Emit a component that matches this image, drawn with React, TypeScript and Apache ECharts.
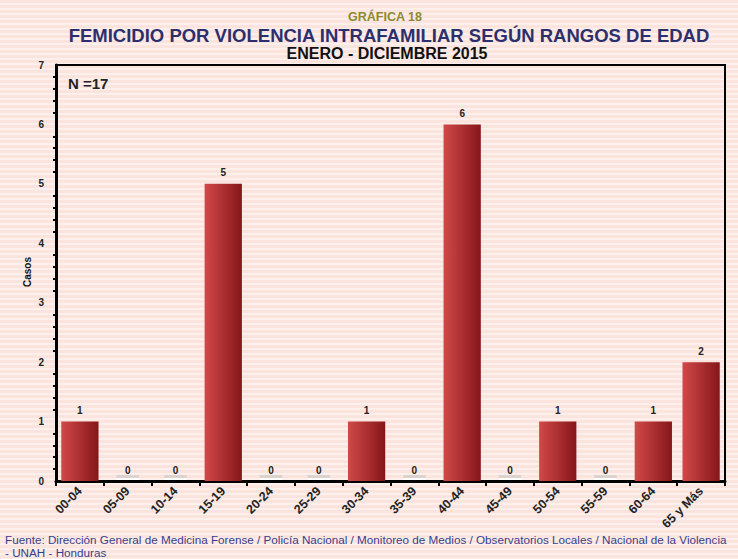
import React, { useEffect, useRef } from "react";
import * as echarts from "echarts";

const categories = ["00-04", "05-09", "10-14", "15-19", "20-24", "25-29", "30-34", "35-39", "40-44", "45-49", "50-54", "55-59", "60-64", "65 y Más"];
const casos = [1, 0, 0, 5, 0, 0, 1, 0, 6, 0, 1, 0, 1, 2];

export default function App() {
  const ref = useRef<HTMLDivElement>(null);
  useEffect(() => {
    const chart = echarts.init(ref.current!, null, { renderer: "svg" });
    const barColor = new echarts.graphic.LinearGradient(0, 0, 1, 0, [
      { offset: 0, color: "#d24848" },
      { offset: 1, color: "#85161a" },
    ]);
    const ff = "Liberation Sans";
    chart.setOption({
      animation: false,
      backgroundColor: "transparent",
      grid: { left: 56, right: 13, top: 65, bottom: 78, show: true, borderColor: "#000", borderWidth: 2, backgroundColor: "transparent" },
      xAxis: {
        type: "category",
        data: categories,
        axisLine: { lineStyle: { color: "#000", width: 3 } },
        axisTick: { show: true, lineStyle: { color: "#000", width: 2 }, length: 5 },
        axisLabel: { rotate: 45, color: "#222", fontWeight: "bold", fontSize: 12.5, fontFamily: ff, margin: 8, interval: 0 },
      },
      yAxis: {
        type: "value",
        min: 0,
        max: 7,
        interval: 1,
        axisLine: { show: true, lineStyle: { color: "#000", width: 3 } },
        axisTick: { show: false },
        minorTick: { show: true, splitNumber: 5, length: 3, lineStyle: { color: "#000", width: 2 } },
        splitLine: { show: false },
        axisLabel: { color: "#222", fontWeight: "bold", fontSize: 10, fontFamily: ff, margin: 12 },
      },
      series: [
        {
          type: "custom",
          z: 1,
          silent: true,
          data: casos.map((v, i) => [i, v]),
          renderItem: (params: any, api: any) => {
            if (api.value(1) !== 0) return null;
            const p = api.coord([api.value(0), 0]);
            const w = api.size([1, 0])[0] * 0.47;
            return {
              type: "group",
              children: [
                { type: "rect", shape: { x: p[0] - w / 2, y: p[1] - 6, width: w, height: 4 }, style: { fill: "#dcd3cf" } },
                { type: "rect", shape: { x: p[0] - w / 2, y: p[1] - 3, width: w, height: 2 }, style: { fill: "#ffffff" } },
              ],
            };
          },
        },
        {
          type: "bar",
          data: casos,
          barCategoryGap: "22%",
          itemStyle: { color: barColor },
          label: { show: true, position: "top", color: "#222", fontWeight: "bold", fontSize: 10, fontFamily: ff, distance: 6 },
        },
      ],
      graphic: [
        { type: "text", x: 385, y: 17, style: { text: "GRÁFICA 18", fill: "#8b8b2c", font: `bold 12.5px ${ff}`, textAlign: "center", textVerticalAlign: "middle" } },
        { type: "text", x: 389, y: 35, style: { text: "FEMICIDIO POR VIOLENCIA INTRAFAMILIAR SEGÚN RANGOS DE EDAD", fill: "#2c2f6e", font: `bold 18.5px ${ff}`, textAlign: "center", textVerticalAlign: "middle" } },
        { type: "text", x: 387, y: 53, style: { text: "ENERO - DICIEMBRE 2015", fill: "#111", font: `bold 16px ${ff}`, textAlign: "center", textVerticalAlign: "middle" } },
        { type: "text", x: 68, y: 83, style: { text: "N =17", fill: "#222", font: `bold 15px ${ff}`, textVerticalAlign: "middle" } },
        { type: "text", x: 27, y: 272, rotation: Math.PI / 2, style: { text: "Casos", fill: "#111", font: `bold 10px ${ff}`, textAlign: "center", textVerticalAlign: "middle" } },
        { type: "text", x: 5, y: 539, style: { text: "Fuente: Dirección General de Medicina Forense / Policía Nacional / Monitoreo de Medios / Observatorios Locales / Nacional de la Violencia", fill: "#3a3c8c", font: `11.7px ${ff}`, textVerticalAlign: "middle" } },
        { type: "text", x: 5, y: 552, style: { text: "- UNAH - Honduras", fill: "#3a3c8c", font: `11.7px ${ff}`, textVerticalAlign: "middle" } },
      ],
    });
    return () => chart.dispose();
  }, []);
  return (
    <div
      ref={ref}
      style={{
        position: "absolute",
        left: 0,
        top: 0,
        width: 738,
        height: 559,
        background: "repeating-linear-gradient(to bottom, #fbe4dd 0px, #fbe4dd 3px, #fdf0ec 3px, #fdf0ec 5px)",
      }}
    />
  );
}
